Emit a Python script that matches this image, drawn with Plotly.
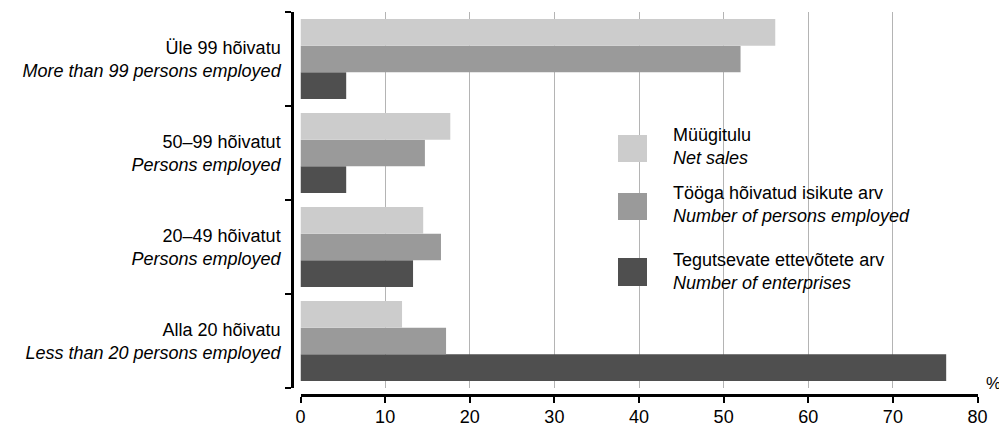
import plotly.graph_objects as go

categories = [
    "Alla 20 hõivatu<br><i>Less than 20 persons employed</i>",
    "20–49 hõivatut<br><i>Persons employed</i>",
    "50–99 hõivatut<br><i>Persons employed</i>",
    "Üle 99 hõivatu<br><i>More than 99 persons employed</i>",
]
net_sales = [12.0, 14.5, 17.7, 56.1]
persons_employed = [17.2, 16.6, 14.7, 52.0]
enterprises = [76.3, 13.3, 5.4, 5.4]

series_names = [
    "Müügitulu<br><i>Net sales</i>",
    "Tööga hõivatud isikute arv<br><i>Number of persons employed</i>",
    "Tegutsevate ettevõtete arv<br><i>Number of enterprises</i>",
]
series_values = [net_sales, persons_employed, enterprises]
series_colors = ["#cccccc", "#9a9a9a", "#4f4f4f"]
x_ticks = [0, 10, 20, 30, 40, 50, 60, 70, 80]

FONT = "Liberation Sans, Arial, sans-serif"
OFF = 8  # default page body margin
W, H = 1007 - OFF, 426 - OFF
ML, MR, MT, MB = 292 - OFF, 29, 12 - OFF, 31
PW, PH = W - ML - MR, H - MT - MB


def px(x):
    # page pixel -> paper fraction
    return (x - OFF - ML) / PW


def py(y):
    return (H - MB - (y - OFF)) / PH


fig = go.Figure()
# plotly puts the first trace at the bottom of a horizontal group
for name, vals, col in reversed(list(zip(series_names, series_values, series_colors))):
    fig.add_trace(go.Bar(
        y=categories, x=vals, orientation="h", name=name,
        marker=dict(color=col, line=dict(width=0)),
        showlegend=False,
    ))

fig.update_layout(
    width=W, height=H,
    margin=dict(l=ML, r=MR, t=MT, b=MB, autoexpand=False),
    plot_bgcolor="white", paper_bgcolor="white",
    barmode="group", bargap=0.15, bargroupgap=0,
    font=dict(family=FONT, size=18, color="#000000"),
    xaxis=dict(
        domain=[px(300.5), px(977.5)],
        range=[0, 80], tickvals=x_ticks,
        showgrid=True, gridcolor="#b4b4b4", gridwidth=1,
        zeroline=False,
        showline=True, linecolor="black", linewidth=3,
        ticks="outside", ticklen=6, tickwidth=2, tickcolor="black",
        anchor="free", position=0, automargin=False,
        tickfont=dict(size=18),
        ticklabelstandoff=-2,
    ),
    yaxis=dict(
        domain=[py(388), 1],
        showgrid=False, zeroline=False,
        showline=True, linecolor="black", linewidth=2.5,
        ticks="outside", ticklen=6, tickwidth=2, tickcolor="black",
        tickson="boundaries",
        anchor="free", position=0, automargin=False,
        tickfont=dict(size=18),
        ticklabelstandoff=7,
    ),
)

# legend drawn as squares + labels
sq_tops = [135, 193, 258]
sq_bots = [162, 220, 286]
txt_centers = [146, 204, 271]
for name, col, t, b, c in zip(series_names, series_colors, sq_tops, sq_bots, txt_centers):
    fig.add_shape(type="rect", xref="paper", yref="paper",
                  x0=px(618), x1=px(647), y0=py(b), y1=py(t),
                  fillcolor=col, line=dict(width=0))
    fig.add_annotation(xref="paper", yref="paper", x=px(671), y=py(c),
                       text=name, showarrow=False, xanchor="left", yanchor="middle",
                       align="left", font=dict(size=18, family=FONT))

fig.add_annotation(xref="paper", yref="paper", x=px(993), y=py(383),
                   text="%", showarrow=False, xanchor="center", yanchor="middle",
                   font=dict(size=17, family=FONT))

fig.write_html("out.html")
